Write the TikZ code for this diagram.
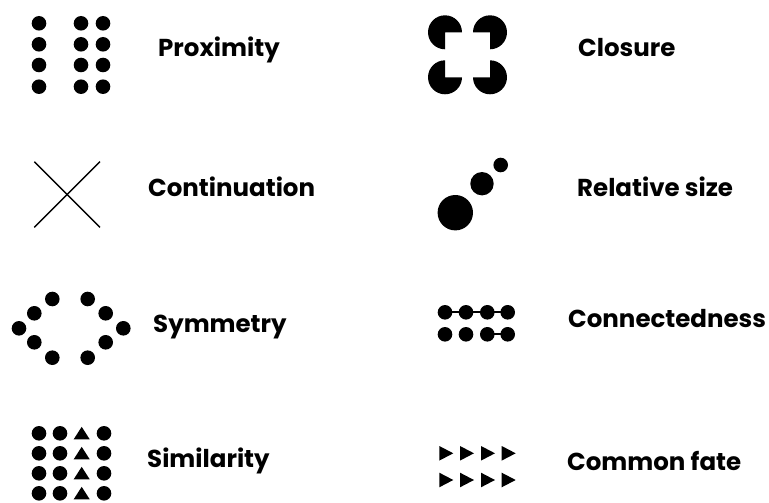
\documentclass[tikz,border=0pt]{standalone}
\usepackage{fontspec}
\setmainfont{Poppins}
\begin{document}
\begin{tikzpicture}[x=1pt,y=-1pt,
  lbl/.style={anchor=base west,inner sep=0pt,font=\bfseries\fontsize{24.5}{28}\selectfont},
  dot/.style={fill=black}]
\useasboundingbox (0,0) rectangle (769,503);
% ---- Proximity
\foreach \y in {23.3,44.3,65,86.7}{
  \foreach \x in {39,81,103}{\fill (\x,\y) circle[radius=7.3pt];}}
\node[lbl] (prox) at (158,57) {Proximity};
% ---- Closure
\fill (445,32.3) -- ++(0:17pt) arc[start angle=0,end angle=270,radius=17pt] -- cycle;
\fill (490,32.3) -- ++(-90:17pt) arc[start angle=-90,end angle=180,radius=17pt] -- cycle;
\fill (445,77.3) -- ++(90:17pt) arc[start angle=90,end angle=360,radius=17pt] -- cycle;
\fill (490,77.3) -- ++(180:17pt) arc[start angle=180,end angle=450,radius=17pt] -- cycle;
\node[lbl] (clos) at (578,57) {Closure};
% ---- Continuation
\coordinate (c1) at (34.3,161.7); \coordinate (c2) at (100,227.3);
\coordinate (c3) at (100,161.7); \coordinate (c4) at (34.3,227.3);
\draw[line width=1.4pt] (c1) -- (c2);
\draw[line width=1.4pt] (c3) -- (c4);
\node[lbl] (cont) at (148,196) {Continuation};
% ---- Relative size
\fill (500.7,165) circle[radius=7.3pt];
\fill (482,183.7) circle[radius=11.7pt];
\fill (455.3,212.7) circle[radius=17.7pt];
\node[lbl] (rel) at (577,196) {Relative size};
% ---- Symmetry
\foreach \x/\y in {52.3/299,87.7/299,34.3/313.3,105.7/313.3,19/328.3,123.3/328.3,34.3/342.3,105.7/342.3,52.3/357.7,87.7/357.7}
  {\fill (\x,\y) circle[radius=7.3pt];}
\node[lbl] (sym) at (153,332) {Symmetry};
% ---- Connectedness
\draw[line width=2pt] (445,312.3) -- (507.7,312.3);
\draw[line width=2pt] (487.3,334.3) -- (507.7,334.3);
\foreach \y in {312.3,334.3}{
  \foreach \x in {445,466,487.3,507.7}{\fill (\x,\y) circle[radius=7.3pt];}}
\node[lbl] (conn) at (568,327) {Connectedness};
% ---- Similarity
\foreach \y in {433.3,453.3,473.3,493.3}{
  \fill (39,\y) circle[radius=7.3pt];
  \fill (60,\y) circle[radius=7.3pt];
  \fill (104,\y) circle[radius=7.3pt];
  \fill (73.7,\y+6) -- (89.7,\y+6) -- (81.7,\y-6.5) -- cycle;}
\node[lbl] (sim) at (147,467) {Similarity};
% ---- Common fate
\foreach \y in {453.3,480}{
  \foreach \x in {439.3,460,481,501.7}{
    \fill (\x,\y-7.3) -- (\x+14,\y) -- (\x,\y+7.3) -- cycle;}}
\node[lbl] (fate) at (567,470) {Common fate};
\end{tikzpicture}
\end{document}
